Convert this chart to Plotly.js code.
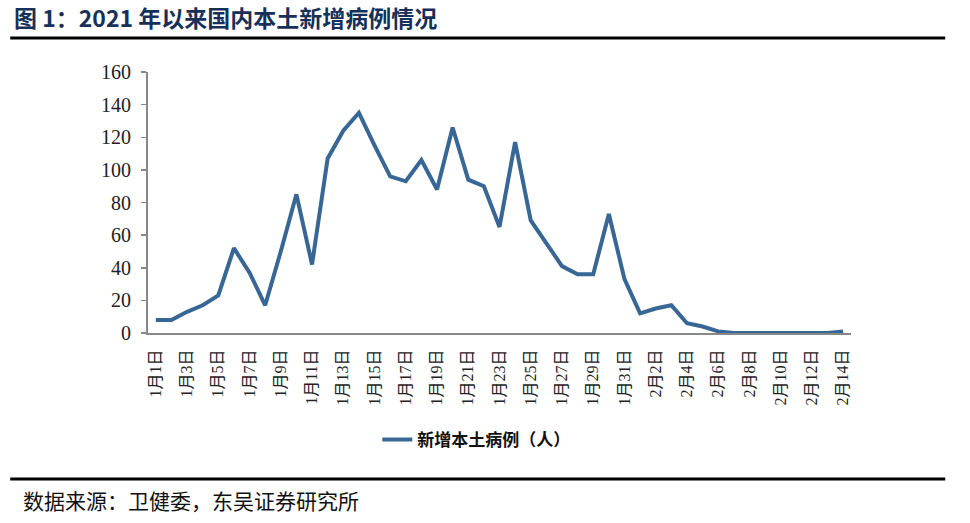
<!DOCTYPE html>
<html>
<head>
<meta charset="utf-8">
<script src="https://cdn.plot.ly/plotly-3.0.1.min.js"></script>
<style>html,body{margin:0;padding:0;background:#fff;}#chart{width:970px;height:523px;}</style>
</head>
<body>
<div id="chart"></div>
<script>
const dates = [
  "1月1日","1月2日","1月3日","1月4日","1月5日","1月6日","1月7日","1月8日","1月9日","1月10日",
  "1月11日","1月12日","1月13日","1月14日","1月15日","1月16日","1月17日","1月18日","1月19日","1月20日",
  "1月21日","1月22日","1月23日","1月24日","1月25日","1月26日","1月27日","1月28日","1月29日","1月30日",
  "1月31日","2月1日","2月2日","2月3日","2月4日","2月5日","2月6日","2月7日","2月8日","2月9日",
  "2月10日","2月11日","2月12日","2月13日","2月14日"
];
const newLocalCases = [
  8, 8, 13, 17, 23, 52, 37, 17, 50, 85,
  42, 107, 124, 135, 115, 96, 93, 106, 88, 126,
  94, 90, 65, 117, 69, 55, 41, 36, 36, 73,
  33, 12, 15, 17, 6, 4, 1, 0, 0, 0,
  0, 0, 0, 0, 1
];
const tickLabels = dates.filter((d, i) => i % 2 === 0);
const seriesName = "新增本土病例（人）";
const titleText = "图 1：2021 年以来国内本土新增病例情况";
const sourceText = "数据来源：卫健委，东吴证券研究所";

const serif = "Liberation Serif, 'Noto Sans CJK SC', serif";
const cjk = "'Noto Sans CJK SC', sans-serif";

const trace = {
  x: dates,
  y: newLocalCases,
  type: "scatter",
  mode: "lines",
  name: seriesName,
  line: {color: "#386796", width: 4}
};

const layout = {
  width: 970, height: 523,
  margin: {l: 148, r: 119, t: 72, b: 190},
  paper_bgcolor: "#fff", plot_bgcolor: "#fff",
  showlegend: true,
  legend: {
    orientation: "h", x: 0.467, y: -0.41, xanchor: "center", yanchor: "middle",
    font: {family: cjk, size: 17, color: "#111", weight: 600}
  },
  xaxis: {
    type: "category",
    range: [-0.5, 44.5],
    tickmode: "array",
    tickvals: tickLabels,
    ticktext: tickLabels,
    tickangle: -90,
    tickfont: {family: serif, size: 16, color: "#222"},
    ticklabelstandoff: 8,
    showgrid: false, zeroline: false,
    showline: true, linecolor: "#888", linewidth: 2,
    ticks: "", automargin: false
  },
  yaxis: {
    range: [0, 160],
    tickvals: [0, 20, 40, 60, 80, 100, 120, 140, 160],
    tickfont: {family: serif, size: 20, color: "#222"},
    ticklabelstandoff: 6,
    showgrid: false, zeroline: false,
    showline: true, linecolor: "#888", linewidth: 2,
    ticks: "outside", ticklen: 5, tickcolor: "#888", tickwidth: 1.5,
    automargin: false
  },
  shapes: [
    {type: "line", xref: "paper", yref: "paper", x0: -0.196, x1: 1.134, y0: 1.130, y1: 1.130,
     line: {color: "#000", width: 3}},
    {type: "line", xref: "paper", yref: "paper", x0: -0.196, x1: 1.134, y0: -0.559, y1: -0.559,
     line: {color: "#000", width: 3}}
  ],
  annotations: [
    {text: "<b>" + titleText + "</b>", xref: "paper", yref: "paper", x: -0.193, y: 1.211,
     xanchor: "left", yanchor: "middle", showarrow: false,
     font: {family: cjk, size: 23, color: "#17305A"}},
    {text: sourceText, xref: "paper", yref: "paper", x: -0.180, y: -0.640,
     xanchor: "left", yanchor: "middle", showarrow: false,
     font: {family: cjk, size: 21, color: "#111"}}
  ]
};

Plotly.newPlot("chart", [trace], layout, {displayModeBar: false, staticPlot: true});
</script>
</body>
</html>
